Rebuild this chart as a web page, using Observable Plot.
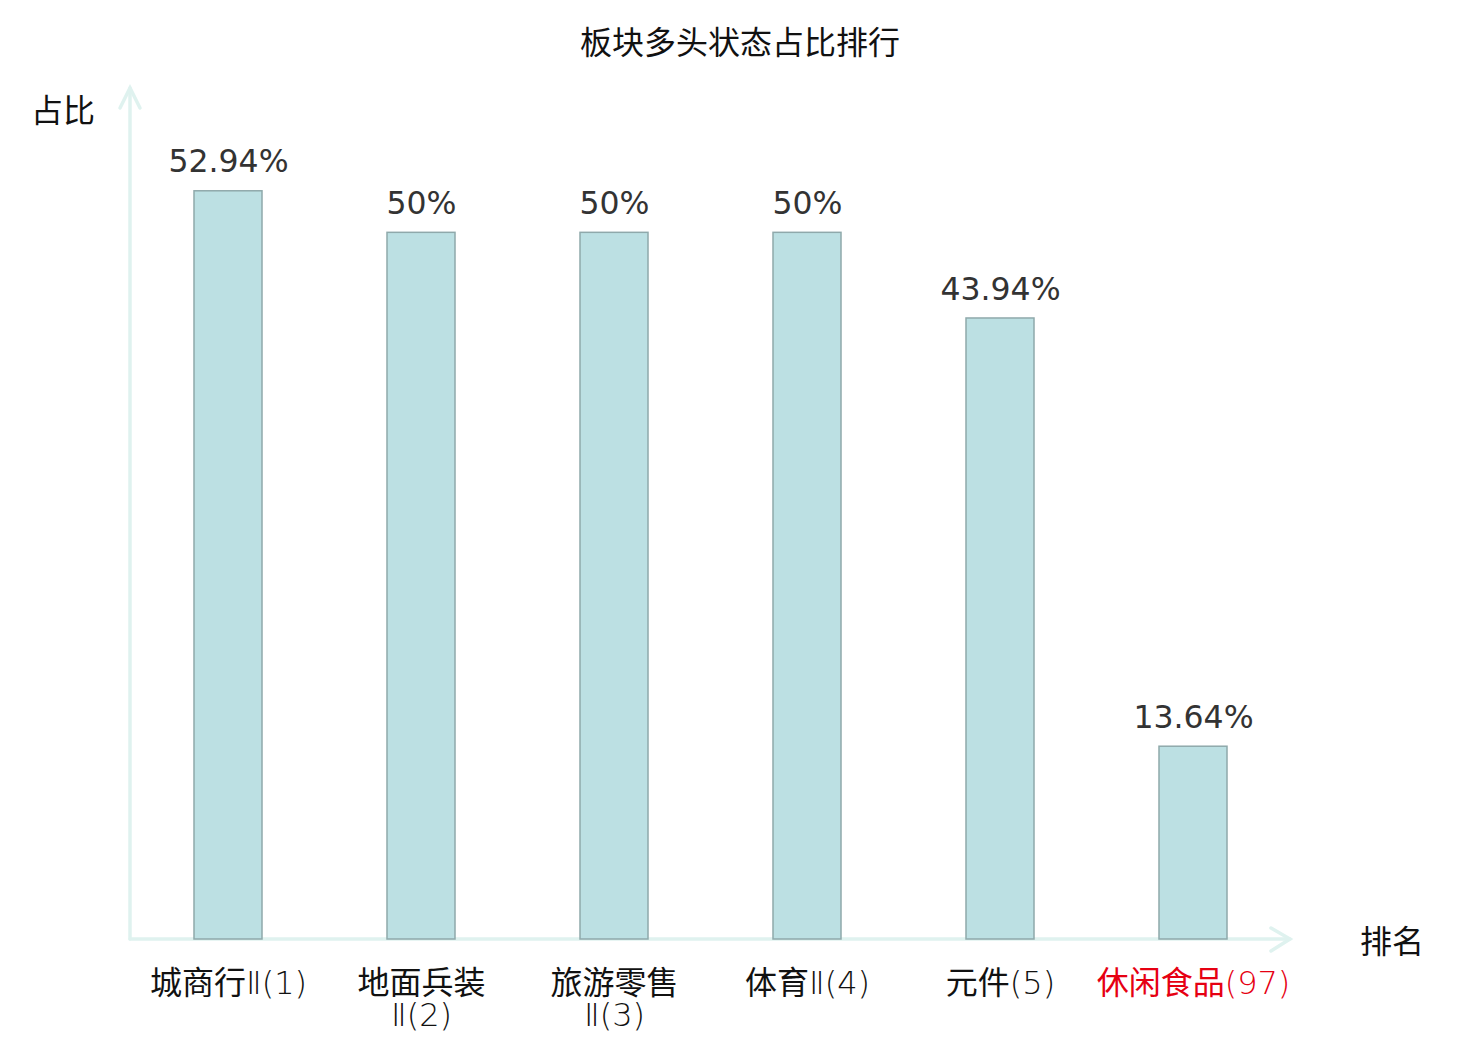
<!DOCTYPE html>
<html><head><meta charset="utf-8">
<script src="https://cdn.jsdelivr.net/npm/d3@7"></script>
<script src="https://cdn.jsdelivr.net/npm/@observablehq/plot@0.6"></script>
<style>
body{margin:0;background:#fff;}
#title{height:80px;line-height:80px;text-align:center;font-size:32px;font-family:"Noto Sans CJK SC";color:#111;}
</style></head><body>
<div id="title">板块多头状态占比排行</div>
<div id="chart"></div>
<script>
const categories = ["城商行Ⅱ(1)", "地面兵装Ⅱ(2)", "旅游零售Ⅱ(3)", "体育Ⅱ(4)", "元件(5)", "休闲食品(97)"];
const tickLabels = ["城商行Ⅱ(1)", "地面兵装\nⅡ(2)", "旅游零售\nⅡ(3)", "体育Ⅱ(4)", "元件(5)", "休闲食品(97)"];
const values = [52.94, 50, 50, 50, 43.94, 13.64];
const valueLabels = ["52.94%", "50%", "50%", "50%", "43.94%", "13.64%"];
const highlight = "休闲食品(97)";
const yAxisName = "占比";
const xAxisName = "排名";

const data = categories.map((c, i) => ({cat: c, value: values[i], label: valueLabels[i], tick: tickLabels[i]}));

const plot = Plot.plot({
  width: 1480,
  height: 960,
  style: {fontFamily: "Noto Sans CJK SC", background: "#fff", overflow: "visible"},
  x: {domain: categories, range: [130, 1290], paddingInner: 0.65, paddingOuter: 0.325, axis: null},
  y: {domain: [0, 60], range: [859, 11], axis: null},
  marks: [
    Plot.barY(data, {x: "cat", y: "value", fill: "#bce0e3", stroke: "#8fa9ab", strokeWidth: 1.5}),
    Plot.text(data, {x: "cat", y: "value", text: "label", dy: -29, fill: "#333", fontSize: 31.5, fontFamily: "DejaVu Sans"}),
    Plot.text(data, {x: "cat", y: () => 0, text: "tick", dy: 31, lineAnchor: "top", lineHeight: 1.02, fontSize: 32,
      fill: d => d.cat === highlight ? "#e60012" : "#111", className: "ticklab"})
  ]
});
document.getElementById("chart").appendChild(plot);

const svg = d3.select(plot);
// lighter latin runs inside tick labels
svg.selectAll(".ticklab text").each(function() {
  const t = d3.select(this);
  const leaves = t.selectAll("tspan").empty() ? [this] : t.selectAll("tspan").nodes();
  leaves.forEach(node => {
    const s = node.textContent;
    const runs = s.match(/[\u3400-\u9fff]+|[^\u3400-\u9fff]+/g) || [];
    node.textContent = "";
    runs.forEach(r => {
      const sp = d3.select(node).append("tspan").text(r);
      if (!/[\u3400-\u9fff]/.test(r)) sp.attr("font-family", "'DejaVu Sans ExtraLight', 'DejaVu Sans'").attr("font-weight", 200);
    });
  });
});

const xr = plot.scale("x").range;
const yr = plot.scale("y").range;
const g = svg.insert("g", ":first-child").attr("stroke", "#dff2ef").attr("stroke-width", 3.5).attr("fill", "none").attr("stroke-linecap", "round");
const x0 = xr[0], y0 = yr[0], x1 = xr[1], y1 = yr[1] - 3;
g.append("line").attr("x1", x0).attr("y1", y0).attr("x2", x0).attr("y2", y1);
g.append("polyline").attr("points", `${x0-10},${y1+20} ${x0},${y1} ${x0+10},${y1+20}`);
g.append("line").attr("x1", x0).attr("y1", y0).attr("x2", x1).attr("y2", y0);
g.append("polyline").attr("points", `${x1-19},${y0-11} ${x1},${y0} ${x1-19},${y0+12}`);
svg.append("text").attr("x", 63).attr("y", yr[1] + 22).attr("text-anchor", "middle").attr("dominant-baseline", "middle")
  .attr("font-size", 32).attr("fill", "#111").text(yAxisName);
svg.append("text").attr("x", 1392).attr("y", y0 + 5).attr("text-anchor", "middle").attr("dominant-baseline", "middle")
  .attr("font-size", 32).attr("fill", "#111").text(xAxisName);
</script>
</body></html>
